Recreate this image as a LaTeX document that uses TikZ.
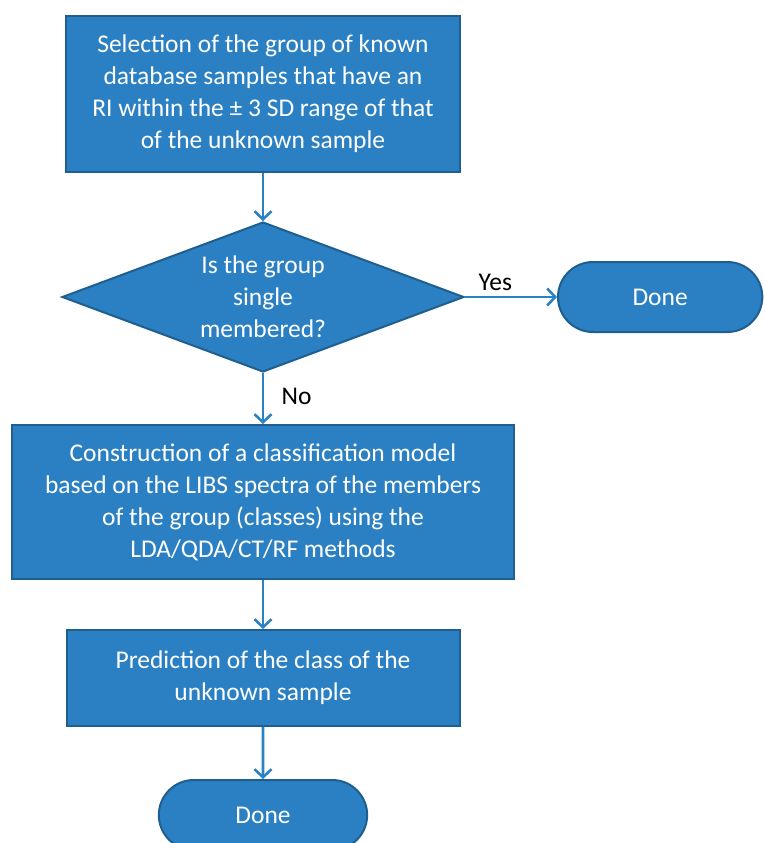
\documentclass[tikz,border=0pt]{standalone}
\usepackage{fontspec}
\setmainfont{Carlito}
\usepackage{tikz}
\usetikzlibrary{arrows.meta, positioning, shapes.geometric, shapes.misc}
\definecolor{stepfill}{HTML}{2A80C2}
\definecolor{stepedge}{HTML}{1E5F90}
\definecolor{flowline}{HTML}{2A82C6}
\tikzset{
  pbox/.style={draw=stepedge, fill=stepfill, line width=2pt, align=center,
    text=white, font=\fontsize{25.5}{32}\selectfont, inner sep=0pt},
  dbox/.style={diamond, draw=stepedge, fill=stepfill, line width=2pt, align=center,
    text=white, font=\fontsize{25.5}{32}\selectfont, aspect=2.68, inner sep=0pt,
    minimum width=402pt, minimum height=150pt},
  tbox/.style={rounded rectangle, draw=stepedge, fill=stepfill, line width=2pt,
    text=white, font=\fontsize{25.5}{32}\selectfont, minimum height=70pt},
  flow/.style={-{Straight Barb[length=8pt, width=17pt]}, draw=flowline, line width=2.6pt},
  lbl/.style={font=\fontsize{25.5}{32}\selectfont, text=black}
}

\begin{document}
\begin{tikzpicture}[x=1pt, y=1pt, node distance=49pt and 92pt]
\path[use as bounding box, clip] (0,0) rectangle (765,-843);
\node[pbox, minimum width=394pt, minimum height=156pt] (select) at (263,-94)
  {Selection of the group of known\\database samples that have an\\RI within the ± 3 SD range of that\\of the unknown sample};
\node[dbox, below=48pt of select] (single) {Is the group\\single\\membered?};
\node[tbox, right=of single, minimum width=211pt] (done1) {Done};
\node[pbox, below=51pt of single, minimum width=502pt, minimum height=154pt] (model)
  {Construction of a classification model\\based on the LIBS spectra of the members\\of the group (classes) using the\\LDA/QDA/CT/RF methods};
\node[pbox, below=of model, minimum width=393pt, minimum height=96pt] (predict)
  {Prediction of the class of the\\unknown sample};
\node[tbox, below=52pt of predict, minimum width=215pt] (done2) {Done};
\draw[flow] (select)--(single); \draw[flow] (single)--node[lbl, above=2pt, pos=0.33] {Yes} (done1);
\draw[flow] (single)--node[lbl, right=14pt, pos=0.45] {No} (model);
\draw[flow] (model)--(predict); \draw[flow] (predict)--(done2);
\end{tikzpicture}
\end{document}
